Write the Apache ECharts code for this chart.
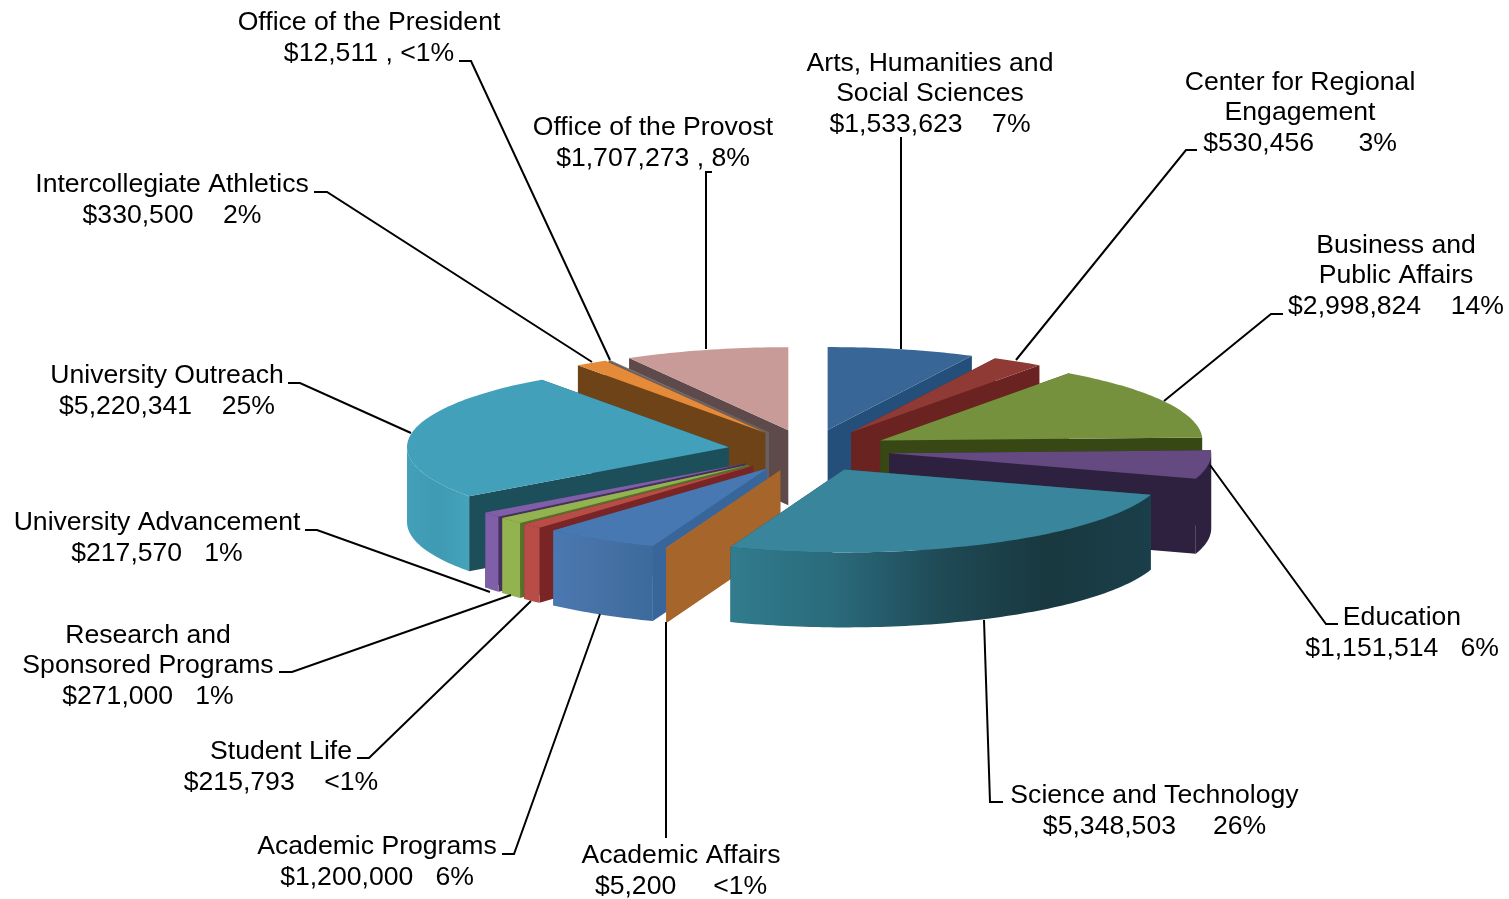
<!DOCTYPE html>
<html><head><meta charset="utf-8">
<style>html,body{margin:0;padding:0;background:#fff}#c{width:1509px;height:899px}</style>
<script src="https://cdn.jsdelivr.net/npm/echarts@6/dist/echarts.min.js"></script>
</head><body><div id="c"></div>
<script>
const categories = ["Arts, Humanities and\nSocial Sciences","Center for Regional\nEngagement","Business and\nPublic Affairs","Education","Science and Technology","Academic Affairs","Academic Programs","Student Life","Research and\nSponsored Programs","University Advancement","University Outreach","Intercollegiate Athletics","Office of the President","Office of the Provost"];
const values = [1533623,530456,2998824,1151514,5348503,5200,1200000,215793,271000,217570,5220341,330500,12511,1707273];
const valueTexts = ["$1,533,623    7%","$530,456      3%","$2,998,824    14%","$1,151,514   6%","$5,348,503     26%","$5,200     <1%","$1,200,000   6%","$215,793    <1%","$271,000   1%","$217,570   1%","$5,220,341    25%","$330,500    2%","$12,511 , <1%","$1,707,273 , 8%"];

// styling
const topColors  = ["#386696","#8f3a35","#76913d","#644a80","#38859c","#c77a30","#4878b2","#b84d48","#93b350","#7f60a8","#42a0ba","#e58a38","#8a8a8a","#c89a98"];
const cutColors  = ["#244f7a","#6a2320","#384815","#2e2140","#1d4f5b","#a6652a","#38659a","#7a2525","#55702a","#45305f","#1d4f5b","#6e4318","#6b6060","#5e4a4a"];
const wallStops  = [["#244f7a","#244f7a"],["#6a2320","#6a2320"],["#384815","#384815"],["#2e2140","#2e2140"],
  ["#317c8e","#2a6a7b","#1f4a56","#19383f","#1a3f4a"],["#a6652a","#a6652a"],["#4a78b0","#4671a6","#3c6a9c"],["#b84d48","#b84d48"],["#93b350","#93b350"],["#7f60a8","#7f60a8"],["#43a0b9","#3f9ab3","#45a3bc"],["#6e4318","#6e4318"],["#6b6060","#6b6060"],["#5e4a4a","#5e4a4a"]];
const drawRank = [3,4,5,10,13,12,11,9,8,7,6,2,1,0];

// label layout: [centre x, centre y of the block]
const labelPos = [[930,94],[1300,113],[1396,276],[1402,633],[1154.5,811],[681,871],[377,862],[281,767],[148,666],[157,538],[167,391],[172,200],[369,38],[653,143]];
const leaders = [
 [[901,137],[901,349]],
 [[1197,150],[1186,150],[1016,360]],
 [[1283,314],[1271,314],[1164,401]],
 [[1338,624],[1326,624],[1210,465]],
 [[1003,802],[990,802],[984,620]],
 [[666,838],[666,622]],
 [[502,854],[514,854],[600,614]],
 [[357,758],[369,758],[531,601]],
 [[279,672],[292,672],[511,595]],
 [[305,530],[317,530],[490,592]],
 [[288,383],[300,383],[411,433]],
 [[314,192],[327,192],[592,362]],
 [[459,61],[471,61],[610,360]],
 [[712,172],[706,172],[706,349]]
];

const CX=809, CY=450.5, RX=322, RY=83, DEPTH=75, EX=81, EY=21;
const total = values.reduce((a,b)=>a+b,0);
const slices = []; { let acc=0; values.forEach(v=>{ const s=acc/total*Math.PI*2; acc+=v; slices.push([s,acc/total*Math.PI*2]); }); }

function renderSlice(params, api){
  const i = params.dataIndex;
  const [a0,a1] = slices[i];
  const mid=(a0+a1)/2;
  const ax=CX+EX*Math.sin(mid), ay=CY-EY*Math.cos(mid);
  const pt=(t,d)=>[ax+RX*Math.sin(t), ay-RY*Math.cos(t)+d];
  const arc=(s,e,d)=>{ const n=Math.max(2,Math.ceil((e-s)/0.02)); const out=[]; for(let k=0;k<=n;k++) out.push(pt(s+(e-s)*k/n,d)); return out; };
  const base=drawRank[i]*10;
  const kids=[];
  const cut=(t,z)=>({type:'polygon',z2:base+z,shape:{points:[[ax,ay],pt(t,0),pt(t,DEPTH),[ax,ay+DEPTH]]},style:{fill:cutColors[i]}});
  kids.push(cut(a0,0),cut(a1,1));
  const w0=Math.max(a0,Math.PI/2), w1=Math.min(a1,Math.PI*1.5);
  if(w1>w0){
    const stops=wallStops[i];
    kids.push({type:'polygon',z2:base+2,shape:{points:arc(w0,w1,0).concat(arc(w0,w1,DEPTH).reverse())},
      style:{fill:{type:'linear',x:0,y:0,x2:1,y2:0,colorStops:stops.map((c,k)=>({offset:k/(stops.length-1),color:c}))}}});
  }
  kids.push({type:'polygon',z2:base+3,shape:{points:[[ax,ay]].concat(arc(a0,a1,0))},style:{fill:topColors[i]}});
  return {type:'group',children:kids};
}

const graphicEls=[];
categories.forEach((c,i)=>{
  graphicEls.push({type:'text',x:labelPos[i][0],y:labelPos[i][1],z:10,
    style:{text:c+"\n"+valueTexts[i],font:'26.6px "Liberation Sans", Arial, sans-serif',fill:'#000',align:'center',verticalAlign:'middle',lineHeight:30.7}});
  graphicEls.push({type:'polyline',z:9,shape:{points:leaders[i]},style:{stroke:'#000',lineWidth:2,fill:null}});
});

const chart=echarts.init(document.getElementById('c'),null,{renderer:'canvas'});
chart.setOption({
  animation:false,
  backgroundColor:'#fff',
  graphic:{elements:graphicEls},
  series:[{type:'custom',coordinateSystem:'none',renderItem:renderSlice,silent:true,
    data:values.map((v,i)=>({name:categories[i],value:v}))}]
});
</script></body></html>
